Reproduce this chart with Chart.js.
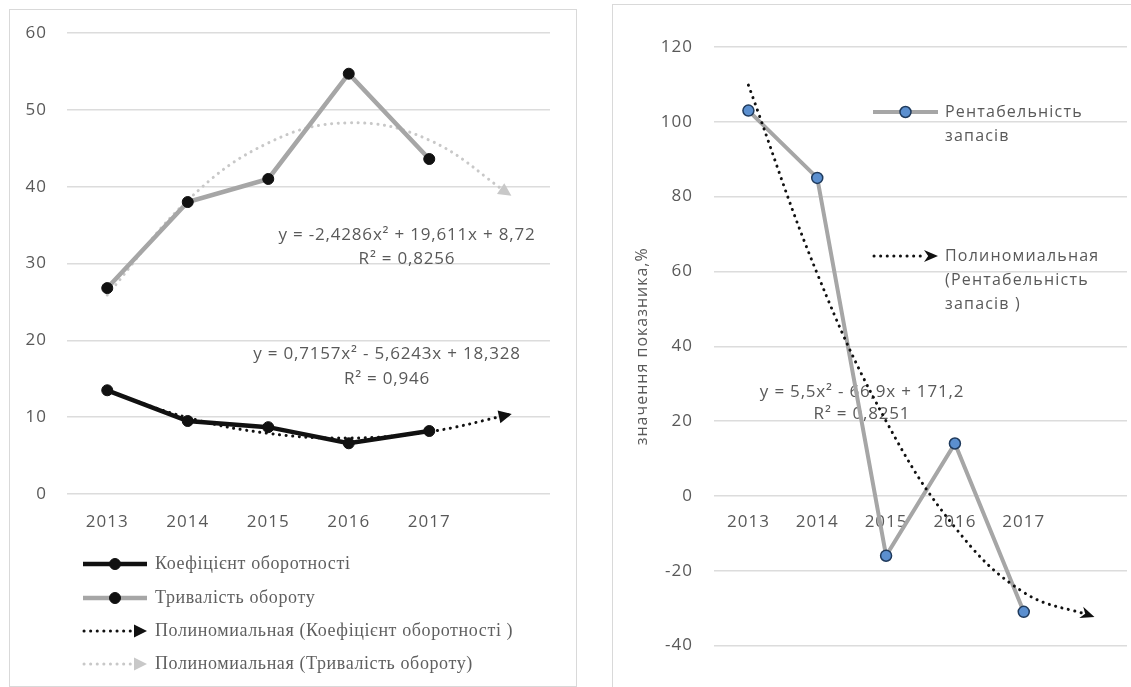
<!DOCTYPE html>
<html>
<head>
<meta charset="utf-8">
<script src="https://cdn.jsdelivr.net/npm/chart.js@4.4.1/dist/chart.umd.min.js"></script>
<style>
  html, body { margin: 0; padding: 0; background: #fff; width: 1131px; height: 687px; overflow: hidden; }
  .panel { position: absolute; border: 1px solid #d9d9d9; box-sizing: border-box; }
  #panelLeft { left: 9px; top: 9px; width: 568px; height: 678px; }
  #panelRight { left: 612px; top: 4px; width: 540px; height: 700px; }
  canvas { position: absolute; }
  #turnover { left: 10px; top: 10px; }
  #profit { left: 613px; top: 5px; }
</style>
</head>
<body>
<div class="panel" id="panelLeft"></div>
<div class="panel" id="panelRight"></div>
<canvas id="turnover" width="565" height="675"></canvas>
<canvas id="profit" width="521" height="682"></canvas>
<script>
// ---- data: turnover of inventories ----
const years = ['2013', '2014', '2015', '2016', '2017', ''];
const turnoverRatio = [13.5, 9.5, 8.7, 6.6, 8.2];          // Коефіцієнт оборотності
const turnoverDays = [26.8, 38.0, 41.0, 54.7, 43.6];        // Тривалість обороту
const ratioFit = [0.7157, -5.6243, 18.328];                 // x², x, const
const daysFit = [-2.4286, 19.611, 8.72];
const ratioR2 = '0,946';
const daysR2 = '0,8256';
const leftTicks = [0, 10, 20, 30, 40, 50, 60];

// ---- data: inventory profitability ----
const yearsR = ['2013', '2014', '2015', '2016', '2017', ''];
const profitability = [103, 85, -16, 14, -31];              // Рентабельність запасів
const profitFit = [5.5, -66.9, 171.2];
const profitR2 = '0,8251';
const rightTicks = [-40, -20, 0, 20, 40, 60, 80, 100, 120];

// ---- helpers ----
const fmt = v => String(Math.abs(v)).replace('.', ',');
function equationText(c) {
  return 'y = ' + (c[0] < 0 ? '-' : '') + fmt(c[0]) + 'x² ' +
    (c[1] < 0 ? '- ' : '+ ') + fmt(c[1]) + 'x ' +
    (c[2] < 0 ? '- ' : '+ ') + fmt(c[2]);
}
// polynomial trend evaluated at each category position (1..n)
function trendSeries(c, n) {
  const out = [];
  for (let x = 1; x <= n; x++) out.push(c[0] * x * x + c[1] * x + c[2]);
  return out;
}

Chart.defaults.font.family = "'Open Sans', sans-serif";
Chart.defaults.font.size = 17;
Chart.defaults.color = '#595959';
Chart.defaults.animation = false;

function drawArrow(ctx, tx, ty, dx, dy, color, len, half, notch) {
  const bx = tx - dx * len, by = ty - dy * len;
  const nx = tx - dx * len * (1 - notch), ny = ty - dy * len * (1 - notch);
  ctx.save();
  ctx.fillStyle = color;
  ctx.beginPath();
  ctx.moveTo(tx, ty);
  ctx.lineTo(bx - dy * half, by + dx * half);
  ctx.lineTo(nx, ny);
  ctx.lineTo(bx + dy * half, by - dx * half);
  ctx.closePath();
  ctx.fill();
  ctx.restore();
}

// letter spacing for all canvas text
const spacingPlugin = {
  id: 'spacing',
  beforeLayout(chart) { chart.ctx.letterSpacing = chart.options.textSpacing || '0px'; },
  beforeDraw(chart) { chart.ctx.letterSpacing = chart.options.textSpacing || '0px'; }
};

// arrow heads at the end of trend lines
const arrowPlugin = {
  id: 'trendArrows',
  afterDatasetsDraw(chart) {
    const ctx = chart.ctx;
    chart.data.datasets.forEach((ds, i) => {
      if (!ds.arrowHead) return;
      const pts = chart.getDatasetMeta(i).data;
      const p = pts[pts.length - 1], q = pts[pts.length - 2];
      let dx = p.x - (p.cp1x !== undefined ? p.cp1x : q.x);
      let dy = p.y - (p.cp1y !== undefined ? p.cp1y : q.y);
      if (Math.hypot(dx, dy) < 0.01) { dx = p.x - q.x; dy = p.y - q.y; }
      const L = Math.hypot(dx, dy); dx /= L; dy /= L;
      const a = ds.arrowHead;
      drawArrow(ctx, p.x + dx * 2, p.y + dy * 2, dx, dy, ds.borderColor, a.len, a.half, a.notch);
    });
  }
};

// trend equations
const equationPlugin = {
  id: 'equations',
  beforeDatasetsDraw(chart, args, opts) {
    const ctx = chart.ctx;
    ctx.save();
    ctx.letterSpacing = opts.spacing;
    ctx.font = opts.font;
    ctx.fillStyle = opts.color;
    ctx.textAlign = 'center';
    ctx.textBaseline = 'middle';
    opts.items.forEach(it => it.lines.forEach((t, k) => ctx.fillText(t, it.x, it.y + k * it.lh)));
    ctx.restore();
  }
};

// legend drawn with line / marker / arrow symbols
const legendPlugin = {
  id: 'symbolLegend',
  afterDraw(chart, args, opts) {
    const ctx = chart.ctx;
    opts.items.forEach(it => {
      const ds = chart.data.datasets[it.dataset];
      const y = it.y;
      ctx.save();
      if (ds.arrowHead) {
        ctx.strokeStyle = ds.borderColor;
        ctx.lineWidth = ds.borderWidth;
        ctx.lineCap = 'round';
        ctx.setLineDash(ds.borderDash);
        ctx.beginPath();
        ctx.moveTo(opts.x0 + 1, y);
        ctx.lineTo(opts.x1 - ds.arrowHead.len + 1, y);
        ctx.stroke();
        ctx.setLineDash([]);
        drawArrow(ctx, opts.x1, y, 1, 0, ds.borderColor, ds.arrowHead.len, ds.arrowHead.half, ds.arrowHead.notch);
      } else {
        ctx.strokeStyle = ds.borderColor;
        ctx.lineWidth = ds.borderWidth;
        ctx.beginPath();
        ctx.moveTo(opts.x0, y);
        ctx.lineTo(opts.x1, y);
        ctx.stroke();
        ctx.beginPath();
        ctx.arc((opts.x0 + opts.x1) / 2, y, ds.pointRadius, 0, Math.PI * 2);
        ctx.fillStyle = ds.pointBackgroundColor;
        ctx.fill();
        ctx.lineWidth = ds.pointBorderWidth;
        ctx.strokeStyle = ds.pointBorderColor;
        ctx.stroke();
      }
      ctx.letterSpacing = opts.spacing;
      ctx.font = opts.font;
      ctx.fillStyle = opts.color;
      ctx.textAlign = 'left';
      ctx.textBaseline = 'middle';
      it.lines.forEach((t, k) => ctx.fillText(t, opts.textX, y + k * opts.lh));
      ctx.restore();
    });
  }
};

// ---------- left chart ----------
new Chart(document.getElementById('turnover'), {
  type: 'line',
  data: {
    labels: years,
    datasets: [
      {
        label: 'Коефіцієнт оборотності',
        data: turnoverRatio,
        borderColor: '#111111', borderWidth: 4.5,
        pointRadius: 5.5, pointBackgroundColor: '#111111', pointBorderColor: '#111111', pointBorderWidth: 1,
        tension: 0, order: 3
      },
      {
        label: 'Тривалість обороту',
        data: turnoverDays,
        borderColor: '#a6a6a6', borderWidth: 4.5,
        pointRadius: 5.5, pointBackgroundColor: '#111111', pointBorderColor: '#111111', pointBorderWidth: 1,
        tension: 0, order: 4
      },
      {
        label: 'Полиномиальная (Коефіцієнт оборотності )',
        data: trendSeries(ratioFit, years.length),
        borderColor: '#111111', borderWidth: 3, borderDash: [0.1, 6.5], borderCapStyle: 'round',
        pointRadius: 0, tension: 0.4, order: 1,
        arrowHead: { len: 13, half: 6.5, notch: 0 }
      },
      {
        label: 'Полиномиальная (Тривалість обороту)',
        data: trendSeries(daysFit, years.length),
        borderColor: '#c8c8c8', borderWidth: 3, borderDash: [0.1, 6.5], borderCapStyle: 'round',
        pointRadius: 0, tension: 0.4, order: 5,
        arrowHead: { len: 13, half: 6.5, notch: 0 }
      }
    ]
  },
  options: {
    responsive: false,
    textSpacing: '1px',
    layout: { padding: { left: 0, right: 25, top: 23, bottom: 151 } },
    scales: {
      x: {
        offset: true,
        grid: { display: false },
        border: { display: false },
        ticks: { padding: 10, autoSkip: false, maxRotation: 0 },
        afterFit(s) { s.height = 40; }
      },
      y: {
        min: 0, max: 60,
        afterBuildTicks(s) { s.ticks = leftTicks.map(v => ({ value: v })); },
        grid: { color: '#dcdcdc', lineWidth: 1.5, drawTicks: false },
        border: { display: false },
        ticks: { padding: 20 },
        afterFit(s) { s.width = 57; s.paddingTop = 10; s.paddingBottom = 10; }
      }
    },
    plugins: {
      legend: { display: false },
      tooltip: { enabled: false },
      equations: {
        font: "17px 'Open Sans'", color: '#595959', spacing: '0.8px',
        items: [
          { lines: [equationText(daysFit), 'R² = ' + daysR2], x: 397, y: 225, lh: 24 },
          { lines: [equationText(ratioFit), 'R² = ' + ratioR2], x: 377, y: 344, lh: 25 }
        ]
      },
      symbolLegend: {
        x0: 73, x1: 137, textX: 145, lh: 0,
        font: "18px 'Liberation Serif'", color: '#5f5f5f', spacing: '0.6px',
        items: [
          { dataset: 0, y: 554, lines: ['Коефіцієнт оборотності'] },
          { dataset: 1, y: 588, lines: ['Тривалість обороту'] },
          { dataset: 2, y: 621, lines: ['Полиномиальная (Коефіцієнт оборотності )'] },
          { dataset: 3, y: 654, lines: ['Полиномиальная (Тривалість обороту)'] }
        ]
      }
    }
  },
  plugins: [spacingPlugin, equationPlugin, arrowPlugin, legendPlugin]
});

// ---------- right chart ----------
new Chart(document.getElementById('profit'), {
  type: 'line',
  data: {
    labels: yearsR,
    datasets: [
      {
        label: 'Рентабельність запасів',
        data: profitability,
        borderColor: '#a6a6a6', borderWidth: 4,
        pointRadius: 5.5, pointBackgroundColor: '#5b8fcf', pointBorderColor: '#1f3a5c', pointBorderWidth: 1.5,
        tension: 0, order: 2
      },
      {
        label: 'Полиномиальная (Рентабельність запасів )',
        data: trendSeries(profitFit, yearsR.length),
        borderColor: '#111111', borderWidth: 3, borderDash: [0.1, 6.5], borderCapStyle: 'round',
        pointRadius: 0, tension: 0.4, order: 1,
        arrowHead: { len: 14, half: 6, notch: 0.3 }
      }
    ]
  },
  options: {
    responsive: false,
    textSpacing: '1px',
    layout: { padding: { left: 16, right: 0, top: 42, bottom: 41.5 } },
    scales: {
      x: {
        position: { y: 0 },
        offset: true,
        grid: { display: false },
        border: { display: false },
        ticks: { padding: 8, autoSkip: false, maxRotation: 0 }
      },
      y: {
        min: -40, max: 120,
        afterBuildTicks(s) { s.ticks = rightTicks.map(v => ({ value: v })); },
        grid: { color: '#dcdcdc', lineWidth: 1.5, drawTicks: false },
        border: { display: false },
        ticks: { padding: 21 },
        title: { display: true, text: 'значення показника,%', font: { size: 16 }, color: '#595959', padding: { top: 4, bottom: 4 } },
        afterFit(s) { s.width = 85; s.paddingTop = 10; s.paddingBottom = 10; }
      }
    },
    plugins: {
      legend: { display: false },
      tooltip: { enabled: false },
      equations: {
        font: "17px 'Open Sans'", color: '#595959', spacing: '0.8px',
        items: [
          { lines: [equationText(profitFit), 'R² = ' + profitR2], x: 249, y: 387, lh: 22 }
        ]
      },
      symbolLegend: {
        x0: 260, x1: 325, textX: 332, lh: 24,
        font: "16px 'Open Sans'", color: '#595959', spacing: '1.2px',
        items: [
          { dataset: 0, y: 107, lines: ['Рентабельність', 'запасів'] },
          { dataset: 1, y: 251, lines: ['Полиномиальная', '(Рентабельність', 'запасів )'] }
        ]
      }
    }
  },
  plugins: [spacingPlugin, equationPlugin, arrowPlugin, legendPlugin]
});
</script>
</body>
</html>
